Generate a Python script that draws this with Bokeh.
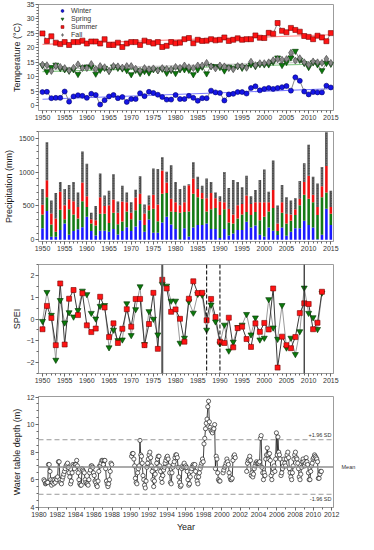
import numpy as np
from bokeh.plotting import figure
from bokeh.layouts import column
from bokeh.models import FixedTicker, Span, Label, Legend, LegendItem, Range1d, LinearAxis
from bokeh.embed import file_html
from bokeh.resources import INLINE

# ---------------- data ----------------
years = list(range(1950, 2016))

t_winter = [4.7, 4.8, 2.6, 2.7, 2.7, 4.9, 1.4, 3.2, 3.6, 3.4, 2.7, 4.1, 3.7, 0.4, 1.9, 3.2,
            3.7, 2.6, 3.0, 1.3, 2.3, 2.3, 4.3, 3.3, 4.8, 4.4, 3.8, 3.0, 2.1, 2.1, 3.7, 2.3,
            2.3, 3.4, 2.7, 1.7, 2.6, 2.6, 5.2, 4.6, 4.4, 1.8, 3.9, 4.1, 4.7, 4.7, 4.2, 6.1,
            6.7, 5.3, 5.8, 6.1, 5.8, 6.1, 6.4, 6.8, 5.2, 9.8, 8.6, 4.9, 3.9, 4.7, 4.6, 4.6,
            6.9, 6.3]
t_spring = [13.9, 11.8, 13.3, 14.1, 12.9, 12.5, 12.0, 12.5, 10.9, 13.2, 13.5, 13.5, 11.0, 12.3,
            13.0, 12.0, 13.5, 13.0, 12.8, 12.2, 10.8, 12.3, 11.2, 11.9, 11.4, 12.5, 12.2, 12.7,
            11.3, 12.2, 11.2, 12.5, 12.5, 12.3, 10.8, 12.5, 13.4, 11.1, 13.7, 13.6, 13.3, 12.1,
            13.4, 12.9, 13.6, 13.0, 13.4, 14.2, 13.6, 14.3, 14.2, 14.2, 15.1, 16.6, 14.0, 15.0,
            16.6, 18.9, 15.8, 14.7, 13.3, 14.9, 14.2, 12.2, 14.7, 14.4]
t_summer = [25.0, 22.4, 24.0, 21.8, 21.3, 22.0, 21.0, 22.0, 22.0, 22.5, 21.5, 22.2, 22.2, 21.5,
            23.0, 21.0, 21.0, 21.8, 20.3, 21.5, 22.0, 22.0, 21.0, 22.5, 22.0, 21.5, 22.0, 20.3,
            20.7, 22.0, 21.6, 21.8, 23.0, 23.4, 21.6, 22.8, 22.4, 22.5, 23.0, 22.6, 22.8, 23.6,
            22.4, 22.8, 23.3, 22.8, 23.0, 23.0, 24.3, 23.5, 23.4, 25.2, 24.9, 28.6, 25.9, 25.4,
            26.9, 26.2, 25.6, 24.1, 23.8, 23.0, 24.2, 23.6, 22.3, 25.1]
t_fall = [14.2, 14.0, 12.0, 13.7, 13.4, 13.0, 12.2, 13.1, 14.3, 13.0, 13.0, 14.4, 12.7, 13.7,
          13.3, 12.0, 13.7, 13.6, 13.2, 13.7, 13.7, 12.8, 12.1, 13.0, 12.6, 12.9, 12.2, 13.0,
          12.7, 12.6, 13.4, 13.1, 13.9, 13.3, 13.0, 13.9, 13.9, 14.8, 13.6, 12.9, 13.9, 13.6,
          13.0, 12.6, 13.7, 13.6, 13.1, 15.2, 14.0, 14.7, 14.7, 15.0, 15.7, 16.1, 15.9, 16.1,
          18.3, 15.6, 16.4, 15.0, 14.1, 15.3, 15.0, 14.8, 16.2, 14.8]

p_winter = [170, 425, 45, 45, 145, 240, 75, 130, 155, 185, 340, 130, 65, 135, 135, 120, 160, 80,
            130, 185, 130, 195, 290, 120, 300, 105, 105, 255, 340, 225, 160, 10, 170, 50, 180,
            220, 220, 240, 160, 160, 25, 160, 65, 95, 145, 145, 265, 180, 210, 75, 50, 180, 135,
            70, 180, 60, 120, 170, 170, 280, 220, 180, 10, 75, 460, 220]
p_spring = [203, 205, 180, 75, 300, 65, 375, 245, 160, 385, 145, 110, 145, 250, 250, 130, 240,
            150, 140, 235, 175, 240, 240, 100, 135, 355, 170, 425, 350, 195, 250, 390, 240, 370,
            500, 410, 385, 180, 290, 310, 340, 290, 190, 145, 170, 230, 145, 185, 200, 215, 290,
            240, 335, 60, 220, 180, 160, 195, 340, 385, 385, 375, 355, 555, 240, 165]
p_summer = [145, 250, 165, 195, 265, 205, 150, 195, 170, 275, 160, 65, 80, 245, 115, 260, 195,
            170, 295, 135, 95, 190, 150, 170, 75, 205, 245, 345, 155, 185, 145, 110, 145, 385,
            225, 120, 85, 195, 240, 145, 200, 105, 205, 135, 195, 155, 245, 165, 145, 265, 215,
            135, 265, 110, 155, 145, 95, 85, 95, 190, 340, 110, 120, 160, 390, 100]
p_fall = [232, 560, 190, 375, 145, 240, 210, 285, 215, 460, 480, 95, 210, 350, 155, 215, 375,
          165, 235, 145, 155, 115, 260, 130, 145, 390, 525, 195, 160, 495, 300, 240, 245, 15,
          240, 180, 110, 290, 165, 85, 80, 445, 305, 510, 345, 245, 290, 115, 180, 330, 485,
          155, 435, 265, 255, 245, 205, 165, 265, 275, 460, 265, 345, 285, 500, 240]

spei_years = list(range(1950, 2014))
spei_red = [-0.47, 0.6, 0.05, -1.2, 1.63, -1.17, 0.93, 1.33, 0.18, 1.18, -0.29, -0.6, -0.44,
            1.02, 0.53, -0.83, -0.2, -1.1, -0.45, 0.45, -0.35, 0.92, 0.92, -1.2, -0.23, 1.2,
            -1.37, 1.8, 1.4, 0.33, 0.44, 0.01, -1.04, 0.93, 1.73, 1.19, 1.2, -0.06, 0.92, 0.09,
            -1.04, -1.1, 0.06, -1.3, -0.42, -0.35, -0.92, -1.28, -0.2, -0.59, -0.18, -0.48, 1.4,
            -2.23, -0.81, -1.2, -1.34, -0.83, 0.27, 0.72, 0.69, -0.47, -0.17, 1.25]
spei_green = [-0.1, 1.23, 0.18, -1.88, 0.86, -0.17, 0.3, 0.1, 0.4, 1.29, 1.13, 0.27, 0.01, 0.59,
              0.63, -1.31, -0.5, -0.98, -0.95, 0.71, -0.75, 0.44, 1.49, -1.16, 0.35, 0.0, -0.72,
              1.6, 1.52, 0.83, 0.83, -1.1, -0.87, 0.8, 0.28, 1.14, 1.1, -0.5, 0.65, -0.12, -1.13,
              -0.27, -1.46, -1.05, -0.38, -0.27, 0.22, -0.72, 0.06, -0.95, -0.87, 0.9, -0.4, -0.92,
              0.63, -1.32, -0.87, -1.62, -0.57, 1.43, 0.27, 0.07, -0.47, 1.2]
spei_breaks_solid = [1977, 2009]
spei_breaks_dashed = [1987, 1990]

wt_years = list(range(1980, 2011))
N = None
wt_monthly = [
    [N, N, N, N, N, N, 6.0, 5.9, 5.7, 5.75, 5.8, 5.8],
    [7.1, 7.1, 6.6, 6.0, 5.6, 5.8, 6.0, 5.7, 6.0, 5.8, 6.1, 6.0],
    [6.2, 7.3, 7.3, 6.0, 5.8, 5.7, 6.0, 6.2, 6.4, 6.6, 6.8, 7.0],
    [7.1, 7.2, 6.9, 6.5, 6.2, 5.7, 5.9, 6.5, 7.1, 7.0, 6.8, 7.1],
    [7.1, 7.4, 7.0, 6.5, 6.0, 5.7, 5.6, 5.6, 6.8, 6.7, 6.6, 6.5],
    [6.0, 5.8, 5.7, 5.7, 5.6, 6.0, 6.5, 6.7, 7.0, 7.0, 6.9, 6.5],
    [6.3, 5.9, 5.8, 5.6, 5.5, 5.9, 6.6, 7.0, 7.0, 7.2, 7.4, 7.4],
    [7.1, 7.4, 7.4, 6.8, 5.9, 5.7, 5.5, 5.7, 6.0, 6.6, 7.2, 7.1],
    [N] * 12,
    [N] * 12,
    [N, 7.7, 7.9, 7.9, 7.5, 7.0, 6.1, 5.8, 5.7, 6.5, 6.8, 7.0],
    [8.85, 7.8, 7.7, 7.2, 6.3, 6.0, 5.6, 5.4, 5.9, 6.9, 7.2, 7.5],
    [7.8, 8.0, 7.6, 7.0, 6.6, 6.0, 5.5, 5.9, 6.4, 6.8, 7.2, 7.5],
    [7.7, 7.7, 7.0, 6.6, 6.1, 5.8, 6.3, 6.7, 6.9, 7.2, 7.4, 7.6],
    [7.7, 7.5, 7.0, 6.5, 5.8, 5.7, 6.5, 6.9, 7.1, 7.3, 7.6, 7.8],
    [7.8, 7.6, 6.9, 6.2, 5.8, 5.5, 5.6, 6.8, 7.0, 6.9, 7.2, 6.9],
    [7.0, 6.9, 6.6, 6.0, 5.6, 5.7, 6.2, 6.6, 6.8, 7.0, 7.1, 7.0],
    [7.1, 6.6, 6.2, 5.9, 5.7, 6.2, 6.5, 6.8, 7.0, 7.2, 7.5, 7.3],
    [8.6, 9.0, 9.7, 10.1, 10.4, 11.3, 11.7, 10.2, 9.8, 9.6, 9.5, 9.4],
    [9.6, 9.7, 10.0, 6.8, 7.7, 7.5, 6.5, 6.0, 5.9, 5.9, N, N],
    [N, 6.5, 6.7, 6.9, 7.0, 7.2, 7.5, 7.3, 7.1, 6.5, 6.2, 6.0],
    [6.0, 6.1, 7.4, 7.7, 7.8, 7.6, N, N, N, N, N, N],
    [N, N, N, N, N, N, N, N, 6.6, 7.2, 7.4, 7.5],
    [7.7, 7.4, 6.3, 6.5, 6.2, 6.4, 6.8, 7.0, 7.2, 7.3, 7.2, 7.2],
    [7.2, 7.3, 9.0, 9.2, 6.9, 6.5, 6.0, 6.5, 6.3, 7.5, 7.8, 8.3],
    [7.8, 7.5, 7.9, 7.4, 6.3, 6.0, 6.5, 6.8, 7.0, 6.6, 7.5, 9.4],
    [7.8, 9.1, 8.0, 7.8, 7.5, 6.3, 6.5, 6.8, 7.0, 7.5, 7.2, 7.0],
    [7.5, 7.8, 8.0, 7.6, 6.8, 6.5, 6.2, 6.0, 6.5, 7.0, 7.5, 7.8],
    [8.0, 7.6, 7.5, 7.2, 6.8, 6.2, 6.0, 6.4, 6.9, 7.3, 7.5, 7.3],
    [7.0, 7.2, 7.6, 7.3, 7.1, 6.5, 6.0, 6.0, 6.6, 7.0, 7.2, 7.5],
    [7.6, 7.8, 7.7, 7.6, 7.5, 7.3, 6.1, 6.1, 6.4, 6.6, 6.6, N],
]
wt_mean = 6.92
wt_sd = 1.01

year_ticks = list(range(1950, 2016, 5))
wt_ticks = list(range(1980, 2013, 2))

# ---------------- styling ----------------
FONT = "Liberation Sans"
FRAME = "#9c9c9c"
W = 358
LB, RB = 34, 16


def style(p, xticks, xminor, yticks, yminor, ylabel, xlabel=None):
    p.outline_line_color = FRAME
    p.outline_line_width = 1
    p.xgrid.visible = False
    p.ygrid.visible = False
    p.background_fill_color = "white"
    p.border_fill_color = "white"
    for ax in (p.xaxis[0], p.yaxis[0]):
        ax.axis_line_color = FRAME
        ax.major_tick_line_color = "#666666"
        ax.minor_tick_line_color = "#666666"
        ax.major_tick_out = 3
        ax.major_tick_in = 0
        ax.minor_tick_out = 2
        ax.minor_tick_in = 0
        ax.major_label_text_font = FONT
        ax.major_label_text_font_size = "7px"
        ax.major_label_text_color = "#333333"
        ax.major_label_standoff = 1
        ax.axis_label_text_font = FONT
        ax.axis_label_text_font_size = "9px"
        ax.axis_label_text_font_style = "normal"
        ax.axis_label_text_color = "#222222"
        ax.axis_label_standoff = 2
    p.xaxis[0].ticker = FixedTicker(ticks=xticks, minor_ticks=xminor)
    p.yaxis[0].ticker = FixedTicker(ticks=yticks, minor_ticks=yminor)
    p.yaxis[0].axis_label = ylabel
    if xlabel:
        p.xaxis[0].axis_label = xlabel


def make_fig(h, top, bottom, xr, yr):
    return figure(width=W, height=h, x_range=Range1d(*xr), y_range=Range1d(*yr),
                  output_backend="svg", toolbar_location=None,
                  min_border_left=LB, min_border_right=RB,
                  min_border_top=top, min_border_bottom=bottom)


XR = (1949.1, 2015.6)
yr_minor = list(range(1949, 2017))

# ---------------- panel 1: temperature ----------------
p1 = make_fig(128, 4, 18, XR, (-1.67, 35))
style(p1, year_ticks, yr_minor, list(range(0, 36, 5)), list(range(0, 36, 1)),
      "Temperature (°C)")

series = [
    ("Winter", t_winter, "circle", 5, "#1515e6", "#00006e", "#7b7bff"),
    ("Spring", t_spring, "inverted_triangle", 6, "#0b7a0b", "#003300", "#86c986"),
    ("Summer", t_summer, "square", 5, "#ff1414", "#7a0000", "#ff8a8a"),
    ("Fall", t_fall, "diamond", 7, "#8a8a8a", "#3d3d3d", "#c8c8c8"),
]
yrs = np.array(years, dtype=float)
for name, vals, mk, sz, fc, lc, tc in series:
    k, b = np.polyfit(yrs, np.array(vals), 1)
    p1.line([yrs[0], yrs[-1]], [k * yrs[0] + b, k * yrs[-1] + b], line_color=tc, line_width=1.2)
items = []
for name, vals, mk, sz, fc, lc, tc in series:
    p1.line(years, vals, line_color="#6a6a6a", line_width=0.8)
for name, vals, mk, sz, fc, lc, tc in series:
    r = p1.scatter(years, vals, marker=mk, size=sz, fill_color=fc, line_color=lc, line_width=0.6)
    items.append(LegendItem(label=name, renderers=[r]))
leg = Legend(items=items, location=(20, 72), background_fill_alpha=0, border_line_alpha=0,
             label_text_font=FONT, label_text_font_size="7px", label_text_color="#333333",
             glyph_height=7, glyph_width=8, label_height=7, spacing=1, padding=0, margin=0,
             label_standoff=5)
p1.add_layout(leg)

# ---------------- panel 2: precipitation ----------------
p2 = make_fig(132, 3, 19, XR, (-25, 1600))
style(p2, year_ticks, yr_minor, [0, 500, 1000, 1500], list(range(0, 1601, 100)),
      "Precipitation (mm)")
c0 = np.zeros(len(years))
c1 = c0 + np.array(p_winter)
c2 = c1 + np.array(p_spring)
c3 = c2 + np.array(p_summer)
c4 = c3 + np.array(p_fall)
bw = 0.58
p2.vbar(x=years, bottom=c0, top=c1, width=bw, fill_color="#1a1aff", line_color=None)
p2.vbar(x=years, bottom=c1, top=c2, width=bw, fill_color="#157a15", line_color=None)
p2.vbar(x=years, bottom=c2, top=c3, width=bw, fill_color="#ee1111", line_color=None)
p2.vbar(x=years, bottom=c3, top=c4, width=bw, fill_color="#4a4a4a", line_color=None,
        hatch_pattern="dot", hatch_color="#a8a8a8", hatch_scale=2.5, hatch_weight=1)

# ---------------- panel 3: SPEI ----------------
p3 = make_fig(132, 4, 19, XR, (-2.5, 2.5))
style(p3, year_ticks, yr_minor, [-2, -1, 0, 1, 2], [v / 2 for v in range(-5, 6)], "SPEI")
for yv in spei_breaks_solid:
    p3.add_layout(Span(location=yv, dimension="height",
                       line_color="#555555" if yv == spei_breaks_solid[0] else "#222222",
                       line_width=2 if yv == spei_breaks_solid[0] else 1.2))
for yv in spei_breaks_dashed:
    p3.add_layout(Span(location=yv, dimension="height", line_color="#111111",
                       line_width=1.1, line_dash="4 2"))
p3.line(spei_years, spei_green, line_color="#9a9a9a", line_width=1)
p3.line(spei_years, spei_red, line_color="#3a3a3a", line_width=1)
p3.scatter(spei_years, spei_green, marker="inverted_triangle", size=6, fill_color="#0b7a0b",
           line_color="#003300", line_width=0.6)
p3.scatter(spei_years, spei_red, marker="square", size=5, fill_color="#ff1414",
           line_color="#7a0000", line_width=0.6)

# ---------------- panel 4: water table ----------------
p4 = make_fig(142, 4, 26, (1979.95, 2012.2), (3.98, 12.04))
style(p4, wt_ticks, list(range(1979, 2014)), [4, 6, 8, 10, 12], [v / 2 for v in range(8, 25)],
      "Water table depth (m)", "Year")
wx, wy = [], []
for yv, months in zip(wt_years, wt_monthly):
    for m, v in enumerate(months):
        wx.append(yv + (m + 0.5) / 12.0)
        wy.append(np.nan if v is None else v)
p4.add_layout(Span(location=wt_mean, dimension="width", line_color="#8f8f8f", line_width=1.5))
for s in (1, -1):
    p4.add_layout(Span(location=wt_mean + s * 1.96 * wt_sd, dimension="width",
                       line_color="#9a9a9a", line_width=1, line_dash="5 3"))
p4.line(wx, wy, line_color="#111111", line_width=0.8)
p4.scatter(wx, wy, marker="circle", size=4.2, fill_color="white", line_color="#222222",
           line_width=0.7)
lab_kw = dict(text_font=FONT, text_font_size="5.5px", text_color="#333333")
p4.add_layout(Label(x=2012.2, y=wt_mean + 1.96 * wt_sd, x_offset=-2, y_offset=2,
                    text="+1.96 SD", text_align="right", text_baseline="bottom", **lab_kw))
p4.add_layout(Label(x=2012.2, y=wt_mean - 1.96 * wt_sd, x_offset=-2, y_offset=-2,
                    text="-1.96 SD", text_align="right", text_baseline="top", **lab_kw))
mean_axis = LinearAxis(ticker=FixedTicker(ticks=[wt_mean]),
                       major_label_overrides={wt_mean: "Mean"},
                       axis_line_color=None, major_tick_line_color=None,
                       minor_tick_line_color=None, major_label_standoff=2,
                       major_label_text_font=FONT, major_label_text_font_size="5.5px",
                       major_label_text_color="#333333")
p4.add_layout(mean_axis, "right")

layout = column(p1, p2, p3, p4, spacing=0)
open("out.html", "w").write(file_html(layout, INLINE))
